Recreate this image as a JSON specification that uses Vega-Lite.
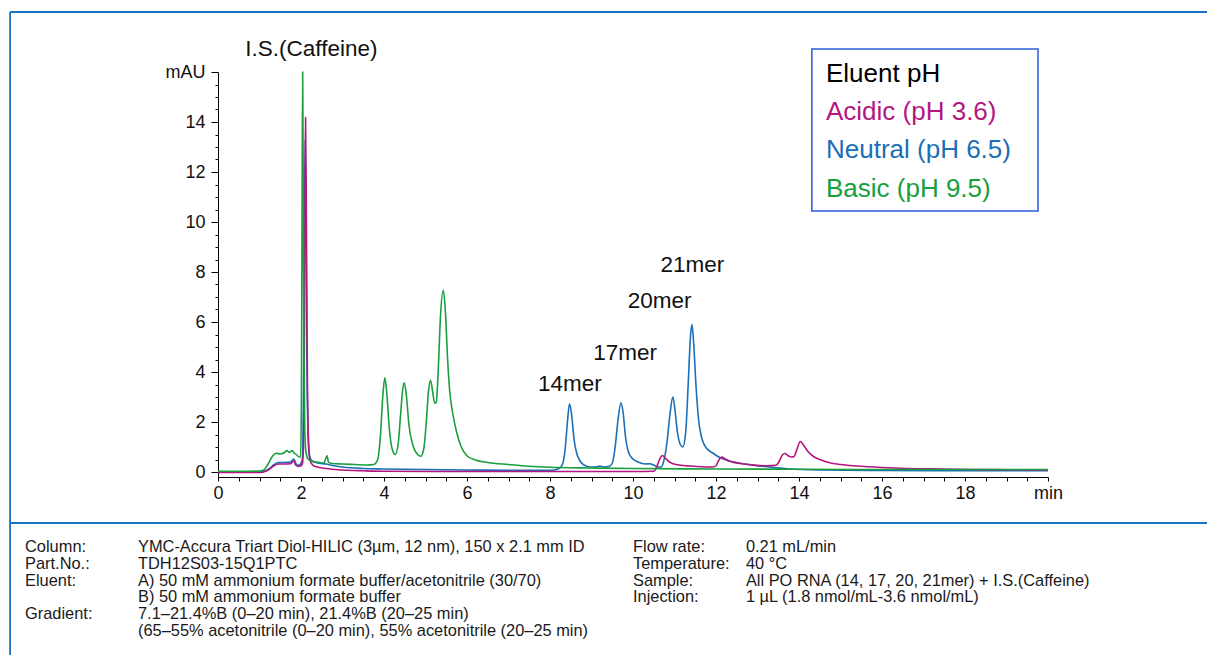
{
  "$schema": "https://vega.github.io/schema/vega-lite/v6.json",
  "autosize": {"type": "none"},
  "width": 830,
  "height": 405,
  "padding": {"left": 218, "top": 72, "right": 159, "bottom": 178},
  "background": "white",
  "config": {"view": {"stroke": null}, "font": "Liberation Sans"},
  "datasets": {
    "neutral": [
      {"series":"Neutral (pH 6.5)","t":0,"v":0.0},{"series":"Neutral (pH 6.5)","t":1.0,"v":0.0},{"series":"Neutral (pH 6.5)","t":1.15,"v":0.05},{"series":"Neutral (pH 6.5)","t":1.25,"v":0.15},{"series":"Neutral (pH 6.5)","t":1.35,"v":0.3},{"series":"Neutral (pH 6.5)","t":1.45,"v":0.38},{"series":"Neutral (pH 6.5)","t":1.6,"v":0.38},{"series":"Neutral (pH 6.5)","t":1.75,"v":0.4},{"series":"Neutral (pH 6.5)","t":1.83,"v":0.52},{"series":"Neutral (pH 6.5)","t":1.87,"v":0.35},{"series":"Neutral (pH 6.5)","t":1.92,"v":0.27},{"series":"Neutral (pH 6.5)","t":1.98,"v":0.3},{"series":"Neutral (pH 6.5)","t":2.03,"v":0.5},{"series":"Neutral (pH 6.5)","t":2.06,"v":3},{"series":"Neutral (pH 6.5)","t":2.08,"v":9},{"series":"Neutral (pH 6.5)","t":2.1,"v":13.3},{"series":"Neutral (pH 6.5)","t":2.12,"v":10},{"series":"Neutral (pH 6.5)","t":2.14,"v":5},{"series":"Neutral (pH 6.5)","t":2.17,"v":1.5},{"series":"Neutral (pH 6.5)","t":2.2,"v":0.7},{"series":"Neutral (pH 6.5)","t":2.26,"v":0.45},{"series":"Neutral (pH 6.5)","t":2.4,"v":0.36},{"series":"Neutral (pH 6.5)","t":2.6,"v":0.32},{"series":"Neutral (pH 6.5)","t":2.8,"v":0.25},{"series":"Neutral (pH 6.5)","t":3.0,"v":0.2},{"series":"Neutral (pH 6.5)","t":3.5,"v":0.14},{"series":"Neutral (pH 6.5)","t":4.0,"v":0.12},{"series":"Neutral (pH 6.5)","t":5.0,"v":0.1},{"series":"Neutral (pH 6.5)","t":6.0,"v":0.08},{"series":"Neutral (pH 6.5)","t":7.0,"v":0.07},{"series":"Neutral (pH 6.5)","t":8.0,"v":0.07},{"series":"Neutral (pH 6.5)","t":8.2,"v":0.12},{"series":"Neutral (pH 6.5)","t":8.3,"v":0.3},{"series":"Neutral (pH 6.5)","t":8.37,"v":1.0},{"series":"Neutral (pH 6.5)","t":8.42,"v":2.0},{"series":"Neutral (pH 6.5)","t":8.47,"v":2.73},{"series":"Neutral (pH 6.5)","t":8.52,"v":2.3},{"series":"Neutral (pH 6.5)","t":8.58,"v":1.3},{"series":"Neutral (pH 6.5)","t":8.64,"v":0.77},{"series":"Neutral (pH 6.5)","t":8.72,"v":0.45},{"series":"Neutral (pH 6.5)","t":8.82,"v":0.28},{"series":"Neutral (pH 6.5)","t":8.96,"v":0.2},{"series":"Neutral (pH 6.5)","t":9.1,"v":0.2},{"series":"Neutral (pH 6.5)","t":9.2,"v":0.24},{"series":"Neutral (pH 6.5)","t":9.3,"v":0.2},{"series":"Neutral (pH 6.5)","t":9.42,"v":0.22},{"series":"Neutral (pH 6.5)","t":9.5,"v":0.35},{"series":"Neutral (pH 6.5)","t":9.57,"v":1.0},{"series":"Neutral (pH 6.5)","t":9.64,"v":2.1},{"series":"Neutral (pH 6.5)","t":9.71,"v":2.77},{"series":"Neutral (pH 6.5)","t":9.76,"v":2.4},{"series":"Neutral (pH 6.5)","t":9.82,"v":1.4},{"series":"Neutral (pH 6.5)","t":9.89,"v":0.8},{"series":"Neutral (pH 6.5)","t":9.98,"v":0.55},{"series":"Neutral (pH 6.5)","t":10.08,"v":0.43},{"series":"Neutral (pH 6.5)","t":10.17,"v":0.37},{"series":"Neutral (pH 6.5)","t":10.3,"v":0.32},{"series":"Neutral (pH 6.5)","t":10.4,"v":0.33},{"series":"Neutral (pH 6.5)","t":10.5,"v":0.28},{"series":"Neutral (pH 6.5)","t":10.6,"v":0.2},{"series":"Neutral (pH 6.5)","t":10.68,"v":0.2},{"series":"Neutral (pH 6.5)","t":10.75,"v":0.5},{"series":"Neutral (pH 6.5)","t":10.82,"v":1.2},{"series":"Neutral (pH 6.5)","t":10.89,"v":2.3},{"series":"Neutral (pH 6.5)","t":10.96,"v":3.0},{"series":"Neutral (pH 6.5)","t":11.01,"v":2.5},{"series":"Neutral (pH 6.5)","t":11.07,"v":1.6},{"series":"Neutral (pH 6.5)","t":11.14,"v":1.1},{"series":"Neutral (pH 6.5)","t":11.2,"v":1.0},{"series":"Neutral (pH 6.5)","t":11.27,"v":1.6},{"series":"Neutral (pH 6.5)","t":11.33,"v":3.5},{"series":"Neutral (pH 6.5)","t":11.38,"v":5.3},{"series":"Neutral (pH 6.5)","t":11.42,"v":5.9},{"series":"Neutral (pH 6.5)","t":11.46,"v":5.2},{"series":"Neutral (pH 6.5)","t":11.52,"v":3.4},{"series":"Neutral (pH 6.5)","t":11.58,"v":2.1},{"series":"Neutral (pH 6.5)","t":11.65,"v":1.4},{"series":"Neutral (pH 6.5)","t":11.75,"v":1.0},{"series":"Neutral (pH 6.5)","t":11.93,"v":0.75},{"series":"Neutral (pH 6.5)","t":12.1,"v":0.57},{"series":"Neutral (pH 6.5)","t":12.3,"v":0.45},{"series":"Neutral (pH 6.5)","t":12.58,"v":0.35},{"series":"Neutral (pH 6.5)","t":13.0,"v":0.25},{"series":"Neutral (pH 6.5)","t":13.38,"v":0.18},{"series":"Neutral (pH 6.5)","t":13.78,"v":0.12},{"series":"Neutral (pH 6.5)","t":14.5,"v":0.08},{"series":"Neutral (pH 6.5)","t":16,"v":0.06},{"series":"Neutral (pH 6.5)","t":18,"v":0.05},{"series":"Neutral (pH 6.5)","t":20,"v":0.05}
    ],
    "acidic": [
      {"series":"Acidic (pH 3.6)","t":0,"v":-0.02},{"series":"Acidic (pH 3.6)","t":1.0,"v":-0.02},{"series":"Acidic (pH 3.6)","t":1.15,"v":0.03},{"series":"Acidic (pH 3.6)","t":1.25,"v":0.12},{"series":"Acidic (pH 3.6)","t":1.35,"v":0.25},{"series":"Acidic (pH 3.6)","t":1.45,"v":0.32},{"series":"Acidic (pH 3.6)","t":1.6,"v":0.32},{"series":"Acidic (pH 3.6)","t":1.75,"v":0.33},{"series":"Acidic (pH 3.6)","t":1.83,"v":0.45},{"series":"Acidic (pH 3.6)","t":1.87,"v":0.28},{"series":"Acidic (pH 3.6)","t":1.95,"v":0.22},{"series":"Acidic (pH 3.6)","t":2.03,"v":0.3},{"series":"Acidic (pH 3.6)","t":2.06,"v":1.0},{"series":"Acidic (pH 3.6)","t":2.08,"v":5},{"series":"Acidic (pH 3.6)","t":2.1,"v":12},{"series":"Acidic (pH 3.6)","t":2.11,"v":14.18},{"series":"Acidic (pH 3.6)","t":2.13,"v":10},{"series":"Acidic (pH 3.6)","t":2.15,"v":4.5},{"series":"Acidic (pH 3.6)","t":2.18,"v":1.3},{"series":"Acidic (pH 3.6)","t":2.22,"v":0.45},{"series":"Acidic (pH 3.6)","t":2.3,"v":0.25},{"series":"Acidic (pH 3.6)","t":2.45,"v":0.18},{"series":"Acidic (pH 3.6)","t":2.7,"v":0.12},{"series":"Acidic (pH 3.6)","t":3.0,"v":0.08},{"series":"Acidic (pH 3.6)","t":3.5,"v":0.05},{"series":"Acidic (pH 3.6)","t":4,"v":0.03},{"series":"Acidic (pH 3.6)","t":6,"v":0.02},{"series":"Acidic (pH 3.6)","t":8,"v":0.02},{"series":"Acidic (pH 3.6)","t":10,"v":0.02},{"series":"Acidic (pH 3.6)","t":10.5,"v":0.03},{"series":"Acidic (pH 3.6)","t":10.57,"v":0.2},{"series":"Acidic (pH 3.6)","t":10.64,"v":0.5},{"series":"Acidic (pH 3.6)","t":10.71,"v":0.66},{"series":"Acidic (pH 3.6)","t":10.78,"v":0.55},{"series":"Acidic (pH 3.6)","t":10.88,"v":0.4},{"series":"Acidic (pH 3.6)","t":10.97,"v":0.33},{"series":"Acidic (pH 3.6)","t":11.15,"v":0.27},{"series":"Acidic (pH 3.6)","t":11.37,"v":0.24},{"series":"Acidic (pH 3.6)","t":11.65,"v":0.21},{"series":"Acidic (pH 3.6)","t":11.93,"v":0.2},{"series":"Acidic (pH 3.6)","t":12.0,"v":0.25},{"series":"Acidic (pH 3.6)","t":12.06,"v":0.45},{"series":"Acidic (pH 3.6)","t":12.14,"v":0.6},{"series":"Acidic (pH 3.6)","t":12.22,"v":0.52},{"series":"Acidic (pH 3.6)","t":12.35,"v":0.42},{"series":"Acidic (pH 3.6)","t":12.58,"v":0.34},{"series":"Acidic (pH 3.6)","t":12.9,"v":0.28},{"series":"Acidic (pH 3.6)","t":13.2,"v":0.25},{"series":"Acidic (pH 3.6)","t":13.45,"v":0.27},{"series":"Acidic (pH 3.6)","t":13.53,"v":0.45},{"series":"Acidic (pH 3.6)","t":13.6,"v":0.68},{"series":"Acidic (pH 3.6)","t":13.66,"v":0.74},{"series":"Acidic (pH 3.6)","t":13.74,"v":0.65},{"series":"Acidic (pH 3.6)","t":13.82,"v":0.6},{"series":"Acidic (pH 3.6)","t":13.88,"v":0.62},{"series":"Acidic (pH 3.6)","t":13.95,"v":0.9},{"series":"Acidic (pH 3.6)","t":14.03,"v":1.22},{"series":"Acidic (pH 3.6)","t":14.1,"v":1.1},{"series":"Acidic (pH 3.6)","t":14.2,"v":0.85},{"series":"Acidic (pH 3.6)","t":14.35,"v":0.62},{"series":"Acidic (pH 3.6)","t":14.5,"v":0.5},{"series":"Acidic (pH 3.6)","t":14.67,"v":0.4},{"series":"Acidic (pH 3.6)","t":15.0,"v":0.3},{"series":"Acidic (pH 3.6)","t":15.4,"v":0.24},{"series":"Acidic (pH 3.6)","t":16.0,"v":0.18},{"series":"Acidic (pH 3.6)","t":16.6,"v":0.14},{"series":"Acidic (pH 3.6)","t":17.4,"v":0.12},{"series":"Acidic (pH 3.6)","t":18.2,"v":0.1},{"series":"Acidic (pH 3.6)","t":19,"v":0.09},{"series":"Acidic (pH 3.6)","t":20,"v":0.08}
    ],
    "basic": [
      {"series":"Basic (pH 9.5)","t":0,"v":0.03},{"series":"Basic (pH 9.5)","t":0.5,"v":0.03},{"series":"Basic (pH 9.5)","t":1.0,"v":0.04},{"series":"Basic (pH 9.5)","t":1.1,"v":0.08},{"series":"Basic (pH 9.5)","t":1.2,"v":0.3},{"series":"Basic (pH 9.5)","t":1.3,"v":0.6},{"series":"Basic (pH 9.5)","t":1.4,"v":0.75},{"series":"Basic (pH 9.5)","t":1.5,"v":0.72},{"series":"Basic (pH 9.5)","t":1.6,"v":0.78},{"series":"Basic (pH 9.5)","t":1.66,"v":0.86},{"series":"Basic (pH 9.5)","t":1.72,"v":0.78},{"series":"Basic (pH 9.5)","t":1.78,"v":0.86},{"series":"Basic (pH 9.5)","t":1.84,"v":0.75},{"series":"Basic (pH 9.5)","t":1.9,"v":0.68},{"series":"Basic (pH 9.5)","t":1.95,"v":0.6},{"series":"Basic (pH 9.5)","t":1.99,"v":0.6},{"series":"Basic (pH 9.5)","t":2.01,"v":3},{"series":"Basic (pH 9.5)","t":2.025,"v":10},{"series":"Basic (pH 9.5)","t":2.04,"v":16.0},{"series":"Basic (pH 9.5)","t":2.055,"v":11},{"series":"Basic (pH 9.5)","t":2.07,"v":5},{"series":"Basic (pH 9.5)","t":2.09,"v":1.8},{"series":"Basic (pH 9.5)","t":2.12,"v":0.8},{"series":"Basic (pH 9.5)","t":2.18,"v":0.5},{"series":"Basic (pH 9.5)","t":2.3,"v":0.42},{"series":"Basic (pH 9.5)","t":2.45,"v":0.38},{"series":"Basic (pH 9.5)","t":2.55,"v":0.36},{"series":"Basic (pH 9.5)","t":2.6,"v":0.55},{"series":"Basic (pH 9.5)","t":2.63,"v":0.65},{"series":"Basic (pH 9.5)","t":2.66,"v":0.4},{"series":"Basic (pH 9.5)","t":2.75,"v":0.34},{"series":"Basic (pH 9.5)","t":3.0,"v":0.32},{"series":"Basic (pH 9.5)","t":3.3,"v":0.3},{"series":"Basic (pH 9.5)","t":3.6,"v":0.28},{"series":"Basic (pH 9.5)","t":3.75,"v":0.3},{"series":"Basic (pH 9.5)","t":3.85,"v":0.5},{"series":"Basic (pH 9.5)","t":3.92,"v":1.6},{"series":"Basic (pH 9.5)","t":3.97,"v":3.0},{"series":"Basic (pH 9.5)","t":4.02,"v":3.77},{"series":"Basic (pH 9.5)","t":4.07,"v":3.1},{"series":"Basic (pH 9.5)","t":4.13,"v":1.7},{"series":"Basic (pH 9.5)","t":4.2,"v":0.9},{"series":"Basic (pH 9.5)","t":4.27,"v":0.7},{"series":"Basic (pH 9.5)","t":4.34,"v":1.1},{"series":"Basic (pH 9.5)","t":4.4,"v":2.3},{"series":"Basic (pH 9.5)","t":4.45,"v":3.3},{"series":"Basic (pH 9.5)","t":4.49,"v":3.57},{"series":"Basic (pH 9.5)","t":4.54,"v":3.05},{"series":"Basic (pH 9.5)","t":4.6,"v":1.9},{"series":"Basic (pH 9.5)","t":4.7,"v":1.05},{"series":"Basic (pH 9.5)","t":4.8,"v":0.72},{"series":"Basic (pH 9.5)","t":4.89,"v":0.63},{"series":"Basic (pH 9.5)","t":4.96,"v":0.95},{"series":"Basic (pH 9.5)","t":5.02,"v":2.0},{"series":"Basic (pH 9.5)","t":5.07,"v":3.2},{"series":"Basic (pH 9.5)","t":5.12,"v":3.67},{"series":"Basic (pH 9.5)","t":5.17,"v":3.25},{"series":"Basic (pH 9.5)","t":5.22,"v":2.75},{"series":"Basic (pH 9.5)","t":5.26,"v":2.8},{"series":"Basic (pH 9.5)","t":5.31,"v":4.2},{"series":"Basic (pH 9.5)","t":5.36,"v":6.2},{"series":"Basic (pH 9.5)","t":5.43,"v":7.27},{"series":"Basic (pH 9.5)","t":5.48,"v":6.4},{"series":"Basic (pH 9.5)","t":5.53,"v":4.6},{"series":"Basic (pH 9.5)","t":5.58,"v":3.3},{"series":"Basic (pH 9.5)","t":5.65,"v":2.4},{"series":"Basic (pH 9.5)","t":5.75,"v":1.6},{"series":"Basic (pH 9.5)","t":5.85,"v":1.05},{"series":"Basic (pH 9.5)","t":6.0,"v":0.65},{"series":"Basic (pH 9.5)","t":6.2,"v":0.48},{"series":"Basic (pH 9.5)","t":6.5,"v":0.38},{"series":"Basic (pH 9.5)","t":7.0,"v":0.3},{"series":"Basic (pH 9.5)","t":7.5,"v":0.23},{"series":"Basic (pH 9.5)","t":8.0,"v":0.19},{"series":"Basic (pH 9.5)","t":9.0,"v":0.16},{"series":"Basic (pH 9.5)","t":10.0,"v":0.14},{"series":"Basic (pH 9.5)","t":12,"v":0.12},{"series":"Basic (pH 9.5)","t":14,"v":0.11},{"series":"Basic (pH 9.5)","t":16,"v":0.1},{"series":"Basic (pH 9.5)","t":18,"v":0.1},{"series":"Basic (pH 9.5)","t":20,"v":0.1}
    ],
    "legend": [
      {"series":"Eluent pH","t":14.65,"v":15.6},
      {"series":"Acidic (pH 3.6)","t":14.65,"v":14.08},
      {"series":"Neutral (pH 6.5)","t":14.65,"v":12.56},
      {"series":"Basic (pH 9.5)","t":14.65,"v":11.0}
    ],
    "box": [{"t":14.31,"t2":19.76,"v":16.92,"v2":10.44}],
    "frame": [
      {"t":-5.01,"t2":24,"v":18.4,"v2":18.4},
      {"t":-5.01,"t2":-5.01,"v":18.4,"v2":-7.6},
      {"t":-5.01,"t2":24,"v":-2.04,"v2":-2.04}
    ],
    "peaks": [
      {"label":"I.S.(Caffeine)","t":2.25,"v":16.64},
      {"label":"14mer","t":8.48,"v":3.24},
      {"label":"17mer","t":9.81,"v":4.48},
      {"label":"20mer","t":10.64,"v":6.56},
      {"label":"21mer","t":11.43,"v":8.0}
    ],
    "conditions": [
      {"text":"Column:","t":-4.65,"v":-3.0},
      {"text":"YMC-Accura Triart Diol-HILIC (3µm, 12 nm), 150 x 2.1 mm ID","t":-1.928,"v":-3.0},
      {"text":"Part.No.:","t":-4.65,"v":-3.68},
      {"text":"TDH12S03-15Q1PTC","t":-1.928,"v":-3.68},
      {"text":"Eluent:","t":-4.65,"v":-4.36},
      {"text":"A) 50 mM ammonium formate buffer/acetonitrile (30/70)","t":-1.928,"v":-4.36},
      {"text":"B) 50 mM ammonium formate buffer","t":-1.928,"v":-5.0},
      {"text":"Gradient:","t":-4.65,"v":-5.68},
      {"text":"7.1–21.4%B (0–20 min), 21.4%B (20–25 min)","t":-1.928,"v":-5.68},
      {"text":"(65–55% acetonitrile (0–20 min), 55% acetonitrile (20–25 min)","t":-1.928,"v":-6.36},
      {"text":"Flow rate:","t":10.0,"v":-3.0},
      {"text":"0.21 mL/min","t":12.72,"v":-3.0},
      {"text":"Temperature:","t":10.0,"v":-3.68},
      {"text":"40 °C","t":12.72,"v":-3.68},
      {"text":"Sample:","t":10.0,"v":-4.36},
      {"text":"All PO RNA (14, 17, 20, 21mer) + I.S.(Caffeine)","t":12.72,"v":-4.36},
      {"text":"Injection:","t":10.0,"v":-5.0},
      {"text":"1 µL (1.8 nmol/mL-3.6 nmol/mL)","t":12.72,"v":-5.0}
    ]
  },
  "encoding": {
    "x": {
      "field": "t", "type": "quantitative", "title": null,
      "scale": {"domain": [0, 20], "nice": false, "zero": false},
      "axis": {
        "values": [0,0.5,1,1.5,2,2.5,3,3.5,4,4.5,5,5.5,6,6.5,7,7.5,8,8.5,9,9.5,10,10.5,11,11.5,12,12.5,13,13.5,14,14.5,15,15.5,16,16.5,17,17.5,18,18.5,19,19.5,20],
        "labelExpr": "datum.value == 20 ? 'min' : (datum.value % 2 == 0 ? format(datum.value, 'd') : '')",
        "grid": false, "tickSize": 4, "tickColor": "#000", "domainColor": "#000",
        "labelFontSize": 18, "labelFont": "Liberation Sans", "labelColor": "#111",
        "labelFlush": false, "labelOverlap": false, "labelPadding": 3
      }
    },
    "y": {
      "field": "v", "type": "quantitative", "title": null,
      "scale": {"domain": [-0.2, 16], "nice": false, "zero": false},
      "axis": {
        "values": [0,0.5,1,1.5,2,2.5,3,3.5,4,4.5,5,5.5,6,6.5,7,7.5,8,8.5,9,9.5,10,10.5,11,11.5,12,12.5,13,13.5,14,14.5,15,15.5,16],
        "labelExpr": "datum.value == 16 ? 'mAU' : (datum.value % 2 == 0 ? format(datum.value, 'd') : '')",
        "grid": false,
        "tickSize": {"condition": {"test": "datum.value % 2 == 0", "value": 7}, "value": 3},
        "tickColor": "#000", "domainColor": "#000",
        "labelFontSize": 18, "labelFont": "Liberation Sans", "labelColor": "#111",
        "labelFlush": false, "labelOverlap": false, "labelPadding": 6
      }
    }
  },
  "layer": [
    {
      "data": {"name": "frame"},
      "mark": {"type": "rule", "color": "#1a72c4", "strokeWidth": 1.8},
      "encoding": {"x2": {"field": "t2"}, "y2": {"field": "v2"}}
    },
    {
      "data": {"name": "neutral"},
      "mark": {"type": "line", "strokeWidth": 1.6, "interpolate": "monotone"},
      "encoding": {"color": {"field": "series", "type": "nominal", "legend": null,
        "scale": {"domain": ["Acidic (pH 3.6)", "Neutral (pH 6.5)", "Basic (pH 9.5)", "Eluent pH"], "range": ["#b3167f", "#1a6fb8", "#17a03c", "#000000"]}}}
    },
    {
      "data": {"name": "acidic"},
      "mark": {"type": "line", "strokeWidth": 1.6, "interpolate": "monotone"},
      "encoding": {"color": {"field": "series", "type": "nominal", "legend": null}}
    },
    {
      "data": {"name": "basic"},
      "mark": {"type": "line", "strokeWidth": 1.6, "interpolate": "monotone"},
      "encoding": {"color": {"field": "series", "type": "nominal", "legend": null}}
    },
    {
      "data": {"name": "box"},
      "mark": {"type": "rect", "fill": null, "fillOpacity": 0, "stroke": "#2a5bd7", "strokeWidth": 1.5},
      "encoding": {"x2": {"field": "t2"}, "y2": {"field": "v2"}}
    },
    {
      "data": {"name": "legend"},
      "mark": {"type": "text", "align": "left", "baseline": "alphabetic", "fontSize": 26, "font": "Liberation Sans"},
      "encoding": {"text": {"field": "series"}, "color": {"field": "series", "type": "nominal", "legend": null}}
    },
    {
      "data": {"name": "peaks"},
      "mark": {"type": "text", "align": "center", "baseline": "alphabetic", "fontSize": 22.5, "font": "Liberation Sans", "color": "#111"},
      "encoding": {"text": {"field": "label"}}
    },
    {
      "data": {"name": "conditions"},
      "mark": {"type": "text", "align": "left", "baseline": "middle", "fontSize": 16.4, "font": "Liberation Sans", "color": "#1a1a1a"},
      "encoding": {"text": {"field": "text"}}
    }
  ]
}
